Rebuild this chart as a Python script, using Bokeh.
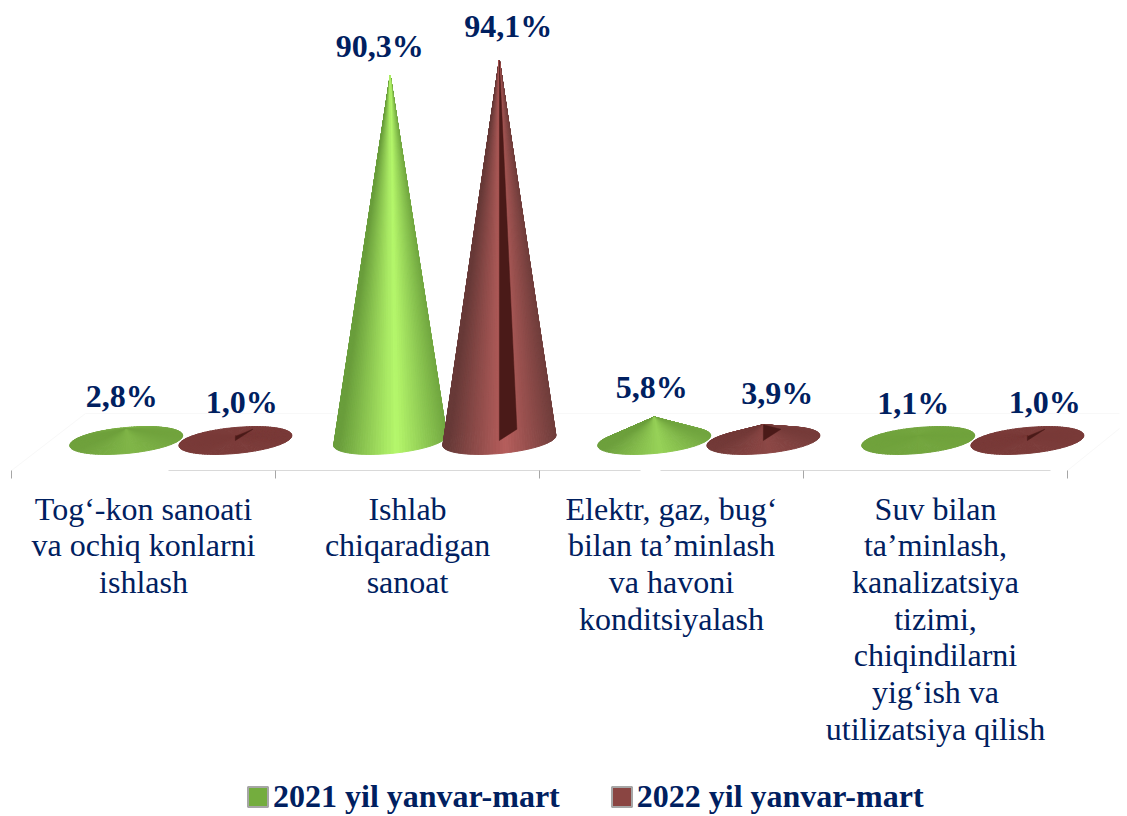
import math
from bokeh.embed import file_html
from bokeh.resources import INLINE
from bokeh.plotting import figure
from bokeh.models import (ColumnDataSource, Range1d, LinearAxis, FixedTicker,
                          Legend, LegendItem)
from bokeh.core.properties import value

# ---- data ----
categories = [
    "Tog‘-kon sanoati\nva ochiq konlarni\nishlash",
    "Ishlab\nchiqaradigan\nsanoat",
    "Elektr, gaz, bug‘\nbilan ta’minlash\nva havoni\nkonditsiyalash",
    "Suv bilan\nta’minlash,\nkanalizatsiya\ntizimi,\nchiqindilarni\nyig‘ish va\nutilizatsiya qilish",
]
series_2021 = [2.8, 90.3, 5.8, 1.1]
series_2022 = [1.0, 94.1, 3.9, 1.0]
name_2021 = "2021 yil yanvar-mart"
name_2022 = "2022 yil yanvar-mart"

# ---- layout / style ----
FONT = "Liberation Serif"
NAVY = "#002060"
W, H = 1127, 816
PX_PER_CAT = 264.0
PX_PER_UNIT = 4.04
X0_PX, Y0_PX = 11.0, 440.0          # page position of category 0 / value 0
OFFSETS = (0.4345, 0.848)           # cone centres within a category
A_PX, B_PX, TILT_PX = 56.5, 13.0, 5.0
STEPS = 120
GREEN = dict(edge=(106, 158, 60), high=(182, 248, 108), flat=(112, 162, 60))
RED = dict(edge=(104, 58, 56), high=(182, 94, 92), flat=(122, 58, 56))
WEDGE = "#4a1a18"
# label offsets from each cone tip in pixels (dx, dy upward)
LBL_2021 = [(-4.5, 33.5), (-10.5, 30), (-2.5, 30.5), (-5, 33.5)]
LBL_2022 = [(6.5, 34), (9, 34.5), (14, 32), (17.5, 34)]


def cx(x):
    return (x - X0_PX) / PX_PER_CAT


def vy(y):
    return (Y0_PX - y) / PX_PER_UNIT


def mix(a, b, k):
    c = [round(a[i] + (b[i] - a[i]) * k) for i in range(3)]
    return "#%02x%02x%02x" % tuple(c)


def cone(x_cat, val, pal):
    """Triangular fan from the tip to a tilted base ellipse, back to front."""
    items = []
    for i in range(STEPS):
        t0 = 2 * math.pi * i / STEPS
        t1 = 2 * math.pi * (i + 1) / STEPS
        tm = (t0 + t1) / 2
        xs, ys = [x_cat], [val]
        for t in (t0, t1):
            xs.append(x_cat + A_PX * math.cos(t) / PX_PER_CAT)
            ys.append((-B_PX * math.sin(t) + TILT_PX * math.cos(t)) / PX_PER_UNIT)
        steep = val ** 2 / (val ** 2 + 25.0)
        light = max(0.0, 1 - abs(math.cos(tm) - 0.1) / 1.0)
        base = mix(pal["flat"], pal["edge"], steep)
        base_rgb = tuple(int(base[j:j + 2], 16) for j in (1, 3, 5))
        col = mix(base_rgb, pal["high"], light * steep)
        items.append((-math.sin(tm), xs, ys, col))
    items.sort(key=lambda r: r[0], reverse=True)
    return items


p = figure(width=W, height=H, toolbar_location=None, output_backend="svg",
           x_range=Range1d(cx(0), cx(W)), y_range=Range1d(vy(H), vy(0)),
           x_axis_location=None, y_axis_location=None, min_border=0,
           outline_line_color=None)
p.xgrid.visible = False
p.ygrid.visible = False
p.background_fill_color = "white"

# faint perspective floor
floor_y = vy(470)
p.multi_line(xs=[[cx(11), cx(85)], [cx(85), cx(1119)], [cx(1067), cx(1119)]],
             ys=[[floor_y, vy(413)], [vy(413), vy(413)], [floor_y, vy(428)]],
             line_color="#f8f8f8", line_width=1)

# axis line, tick marks and category labels
for lo, hi in ((cx(168), cx(640)), (cx(660), cx(1050))):
    a = LinearAxis(fixed_location=floor_y, bounds=(lo, hi), ticker=FixedTicker(ticks=[]),
                   axis_line_color="#d9d9d9", major_tick_line_color=None,
                   minor_tick_line_color=None, major_label_text_color=None)
    p.add_layout(a, "below")

ticks = LinearAxis(fixed_location=floor_y, axis_line_color=None,
                   ticker=FixedTicker(ticks=list(range(len(categories) + 1))),
                   major_tick_in=0, major_tick_out=8, major_tick_line_color="#a6a6a6",
                   major_tick_line_width=1, minor_tick_line_color=None,
                   major_label_text_color=None)
p.add_layout(ticks, "below")

centres = [i + 0.5 for i in range(len(categories))]
labels = LinearAxis(fixed_location=floor_y, axis_line_color=None,
                    ticker=FixedTicker(ticks=centres),
                    major_label_overrides={c: t for c, t in zip(centres, categories)},
                    major_tick_line_color=None, minor_tick_line_color=None,
                    major_label_standoff=14, major_label_text_font=FONT,
                    major_label_text_font_size="32px", major_label_text_color=NAVY,
                    major_label_text_font_style="normal",
                    major_label_text_line_height=1.02)
p.add_layout(labels, "below")

# cones
lab_x, lab_y, lab_dx, lab_dy, lab_txt = [], [], [], [], []
for i in range(len(categories)):
    for vals, off, pal, lbl, is_red in ((series_2021, OFFSETS[0], GREEN, LBL_2021, False),
                                        (series_2022, OFFSETS[1], RED, LBL_2022, True)):
        v = vals[i]
        xc = i + off
        items = cone(xc, v, pal)
        p.patches(xs=[r[1] for r in items], ys=[r[2] for r in items],
                  fill_color=[r[3] for r in items], line_color=[r[3] for r in items],
                  line_width=1)
        if is_red:
            p.patch(x=[xc, xc, xc + 17.5 / PX_PER_CAT], y=[v, 0, 2.8],
                    fill_color=WEDGE, line_color=WEDGE, line_width=0.5)
        lab_x.append(xc)
        lab_y.append(v)
        lab_dx.append(lbl[i][0])
        lab_dy.append(-lbl[i][1])
        lab_txt.append(f"{v:.1f}".replace(".", ",") + "%")

src = ColumnDataSource(dict(x=lab_x, y=lab_y, dx=lab_dx, dy=lab_dy, t=lab_txt))
p.text(x="x", y="y", text="t", x_offset="dx", y_offset="dy", source=src,
       text_font=value(FONT), text_font_style="bold", text_font_size="32px",
       text_color=NAVY, text_align="center", text_baseline="middle")

# legend keys: swatches whose glyphs lie outside the visible range
off_view = dict(left=[-5], right=[-4], top=[-1], bottom=[-2])
r1 = p.quad(left="left", right="right", top="top", bottom="bottom",
            source=ColumnDataSource(off_view), fill_color="#74ad3e", line_color="#a6a6a6",
            line_width=2)
r2 = p.quad(left="left", right="right", top="top", bottom="bottom",
            source=ColumnDataSource(off_view), fill_color="#8a4542", line_color="#a6a6a6",
            line_width=2)
legend = Legend(items=[LegendItem(label=name_2021, renderers=[r1]),
                       LegendItem(label=name_2022, renderers=[r2])],
                orientation="horizontal", location=(245, 1),
                border_line_color=None, background_fill_alpha=0,
                padding=0, margin=0, spacing=49, label_standoff=3,
                glyph_width=25, glyph_height=25,
                label_text_font=FONT, label_text_font_style="bold",
                label_text_font_size="32px", label_text_color=NAVY)
p.add_layout(legend)

open("out.html", "w").write(file_html(p, INLINE))
